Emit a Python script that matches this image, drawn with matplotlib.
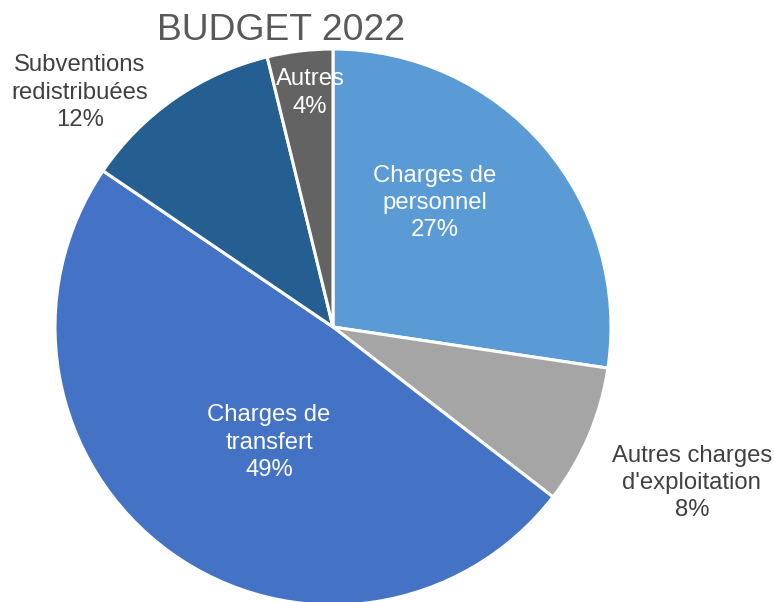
import matplotlib.pyplot as plt

plt.rcParams['font.family'] = ['Liberation Sans', 'DejaVu Sans']

categories = ["Charges de\npersonnel", "Autres charges\nd'exploitation", "Charges de\ntransfert",
              "Subventions\nredistribuées", "Autres"]
# shares (labels show them rounded)
values = [27.35, 8.1, 49.0, 11.7, 3.8]
colors = ["#5B9BD5", "#A5A5A5", "#4472C4", "#255E91", "#636363"]
label_colors = ["white", "#404040", "white", "#404040", "white"]
# label positions in pie units (radius = 1)
label_pos = [(0.367, 0.446), (1.291, -0.561), (-0.230, -0.417), (-0.910, 0.842), (-0.083, 0.842)]

W, H = 774, 602
fig = plt.figure(figsize=(W / 100, H / 100), dpi=100)
cx, cy, R = 333, 327, 278
ax = fig.add_axes([(cx - R) / W, (H - cy - R) / H, 2 * R / W, 2 * R / H])

ax.pie(values, colors=colors, startangle=90, counterclock=False, radius=1,
       wedgeprops=dict(edgecolor="white", linewidth=2.2))
ax.set_xlim(-1, 1)
ax.set_ylim(-1, 1)
ax.set_aspect("equal")
ax.axis("off")

total = sum(values)
for cat, v, (x, y), c in zip(categories, values, label_pos, label_colors):
    ax.text(x, y, f"{cat}\n{round(v / total * 100)}%", ha="center", va="center", color=c,
            fontsize=17.2, linespacing=1.32, clip_on=False)

fig.text(281 / W, 1 - 30 / H, "BUDGET 2022", ha="center", va="center",
         fontsize=26.8, color="#595959")

fig.savefig("out.png", dpi=100)
